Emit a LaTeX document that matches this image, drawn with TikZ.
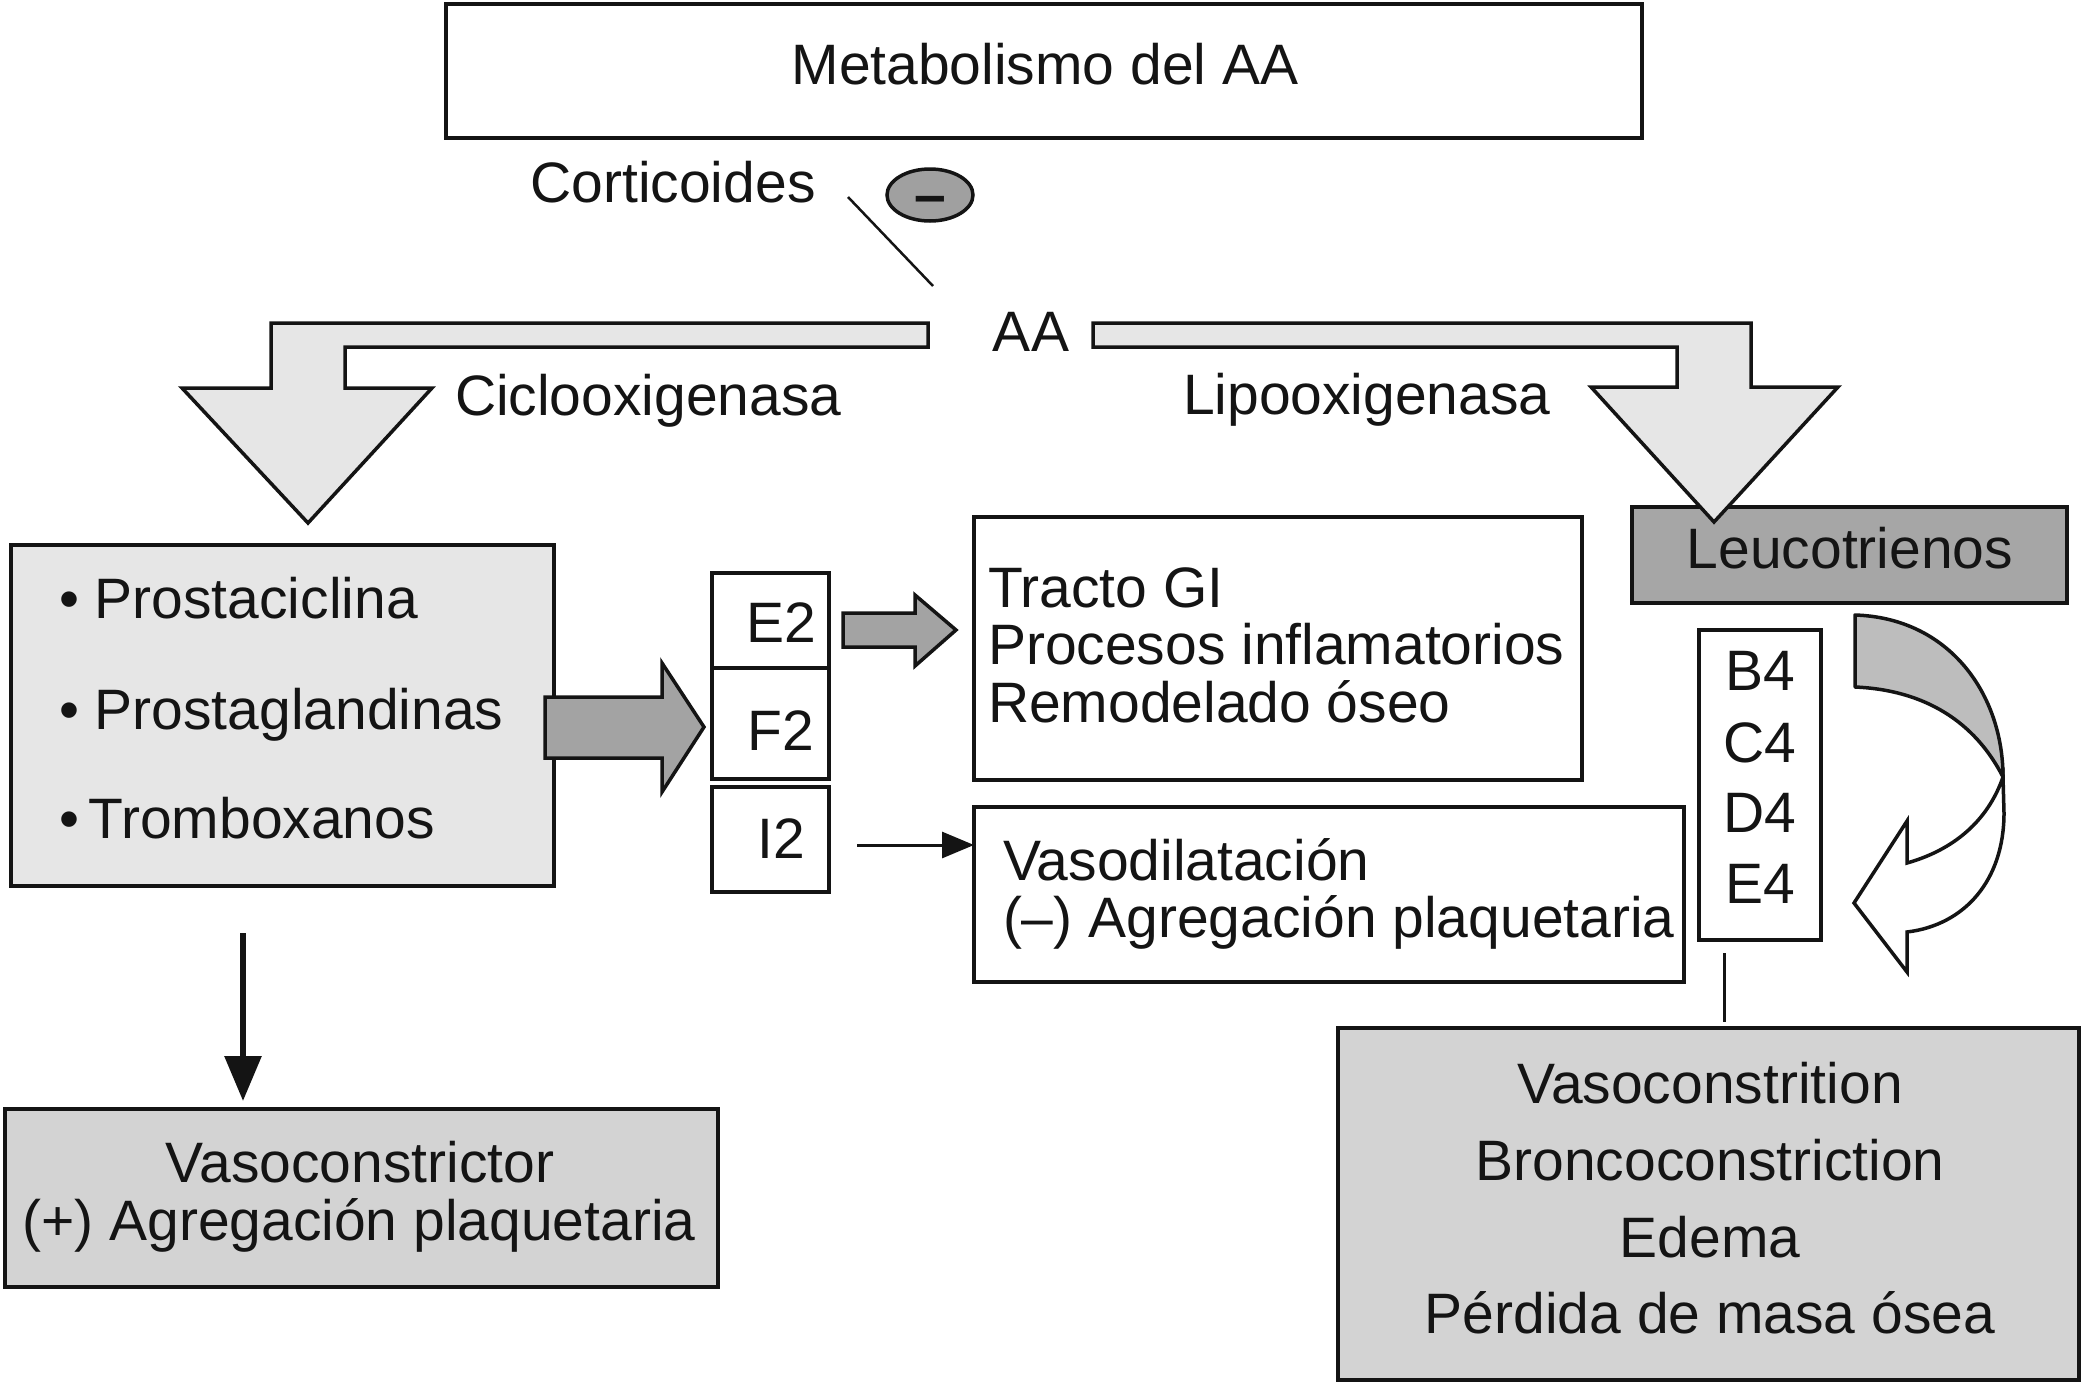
\documentclass[tikz,border=0pt]{standalone}
\usepackage{fontspec}
\setmainfont{Liberation Sans}
\usetikzlibrary{shapes.geometric,arrows.meta}
\definecolor{lightfill}{HTML}{E6E6E6}
\definecolor{midfill}{HTML}{D3D3D3}
\definecolor{darkfill}{HTML}{A6A6A6}
\definecolor{arrowgray}{HTML}{A3A3A3}
\definecolor{curvegray}{HTML}{BDBDBD}
\definecolor{ovalgray}{HTML}{A0A0A0}
\definecolor{ink}{HTML}{141414}
\begin{document}
\begin{tikzpicture}[x=1pt,y=-1pt,
  box/.style={draw=ink, line width=3.5pt, inner sep=0pt, outer sep=0pt, rectangle},
  txt/.style={inner sep=0pt, outer sep=0pt, font=\fontsize{57}{57}\selectfont, text=ink},
  blockarrow/.style={draw=ink, line width=3.5pt, line join=miter},
  thinline/.style={draw=ink, line width=3pt}]
\useasboundingbox (0,0) rectangle (2083,1384);
\fill[white] (0,0) rectangle (2083,1384);

% top box
\node[box, minimum width=1196pt, minimum height=134pt] (meta) at (1044,71) {};
\node[txt, anchor=base] (metat) at (1045,84) {Metabolismo del AA};

% corticoides
\node[txt, anchor=base] (cort) at (673,202) {Corticoides};
\node[ellipse, draw=ink, fill=ovalgray, line width=3.5pt, minimum width=86pt, minimum height=52pt, inner sep=0pt] (minus) at (930,195) {};
\node[txt, anchor=base, font=\fontsize{57}{57}\selectfont\bfseries] (minust) at (930,214) {–};
\coordinate (cl1) at (848,197);
\coordinate (cl2) at (933,286);
\draw[draw=ink, line width=2.5pt] (cl1) -- (cl2);

% AA
\node[txt, anchor=base] (aa) at (1031,351) {AA};

% Leucotrienos box (under arrow)
\node[box, fill=darkfill, minimum width=435pt, minimum height=96pt] (leuco) at (1849.5,555) {};
\node[txt, anchor=base] (leucot) at (1850,568) {Leucotrienos};

% L-arrows
\draw[blockarrow, fill=lightfill] (928,323) -- (271,323) -- (271,388) -- (182,388) -- (308,523) -- (432,388) -- (345,388) -- (345,347) -- (928,347) -- cycle;
\draw[blockarrow, fill=lightfill] (1093,323) -- (1751,323) -- (1751,387) -- (1838,387) -- (1714,522) -- (1591,387) -- (1677,387) -- (1677,347) -- (1093,347) -- cycle;
\node[txt, anchor=base west] (cox) at (455,415) {Ciclooxigenasa};
\node[txt, anchor=base west] (lox) at (1183,414) {Lipooxigenasa};

% left box
\node[box, fill=lightfill, minimum width=543pt, minimum height=341pt] (prost) at (282.5,715.5) {};
\node[txt, anchor=base west] (p1) at (59,618) {• Prostaciclina};
\node[txt, anchor=base west] (p2) at (59,729) {• Prostaglandinas};
\node[txt, anchor=base west] (p3) at (59,838) {•\,Tromboxanos};

% big arrow
\draw[blockarrow, fill=arrowgray] (545,697) -- (662,697) -- (662,663) -- (704,727) -- (662,792) -- (662,758) -- (545,758) -- cycle;

% E2 F2 box
\node[box, minimum width=117pt, minimum height=206pt] (ef) at (770.5,676) {};
\draw[draw=ink, line width=3.5pt] (ef.west |- 0,668) -- (ef.east |- 0,668);
\node[txt, anchor=base] (e2) at (781,642) {E2};
\node[txt, anchor=base] (f2) at (781,750) {F2};
\node[box, minimum width=117pt, minimum height=105pt] (ibox) at (770.5,839.5) {};
\node[txt, anchor=base] (i2) at (781,858) {I2};

% small arrow
\draw[blockarrow, fill=arrowgray] (843,613) -- (915,613) -- (915,595) -- (956,630) -- (915,666) -- (915,647) -- (843,647) -- cycle;

% Tracto box
\node[box, minimum width=608pt, minimum height=263pt] (tracto) at (1278,648.5) {};
\node[txt, anchor=base west] (t1) at (988,607) {Tracto GI};
\node[txt, anchor=base west] (t2) at (988,664) {Procesos inflamatorios};
\node[txt, anchor=base west] (t3) at (988,722) {Remodelado óseo};

% Vasodilatacion box
\node[box, minimum width=710pt, minimum height=175pt] (vasod) at (1329,894.5) {};
\node[txt, anchor=base west] (v1) at (1003,880) {Vasodilatación};
\node[txt, anchor=base west] (v2) at (1003,937) {(–) Agregación plaquetaria};

% thin arrow
\coordinate (iout) at (857,845);
\draw[thinline, -{Triangle[length=32pt,width=26pt]}] (iout) -- (iout -| vasod.west);

% down arrow and vasoconstrictor box
\node[box, fill=midfill, minimum width=713pt, minimum height=178pt] (vcbox) at (361.5,1198) {};
\node[txt, anchor=base] (vc1) at (360,1182) {Vasoconstrictor};
\node[txt, anchor=base] (vc2) at (359,1240) {(+) Agregación plaquetaria};
\coordinate (dstart) at (243,933);
\draw[draw=ink, line width=6pt, -{Triangle[length=45pt,width=36pt]}, shorten >=8pt] (dstart) -- (dstart |- vcbox.north);

% B4 box
\node[box, minimum width=122pt, minimum height=310pt] (bbox) at (1760,785) {};
\node[txt, anchor=base] (b4) at (1760,690) {B4};
\node[txt, anchor=base] (c4) at (1760,762) {C4};
\node[txt, anchor=base] (d4) at (1760,832) {D4};
\node[txt, anchor=base] (e4) at (1760,903) {E4};

% curved ribbon arrow
\draw[blockarrow, fill=curvegray, line join=round] (1855,615) .. controls (1950,618) and (2003,695) .. (2003,777) .. controls (1975,722) and (1925,690) .. (1855,687) -- cycle;
\draw[blockarrow, fill=white] (2003,777) -- (2004,813) .. controls (2004,880) and (1965,925) .. (1907,932) -- (1907,972) -- (1854,903) -- (1907,821) -- (1907,863) .. controls (1960,848) and (1990,815) .. (2003,777) -- cycle;

% bottom right box
\node[box, fill=midfill, minimum width=741pt, minimum height=352pt] (effects) at (1708.5,1204) {};
\coordinate (vl1) at (1724,953);
\draw[draw=ink, line width=3pt] (vl1) -- (vl1 |- 0,1022);
\node[txt, anchor=base] (r1) at (1710,1103) {Vasoconstrition};
\node[txt, anchor=base] (r2) at (1710,1180) {Broncoconstriction};
\node[txt, anchor=base] (r3) at (1710,1257) {Edema};
\node[txt, anchor=base] (r4) at (1710,1333) {Pérdida de masa ósea};
\end{tikzpicture}
\end{document}
